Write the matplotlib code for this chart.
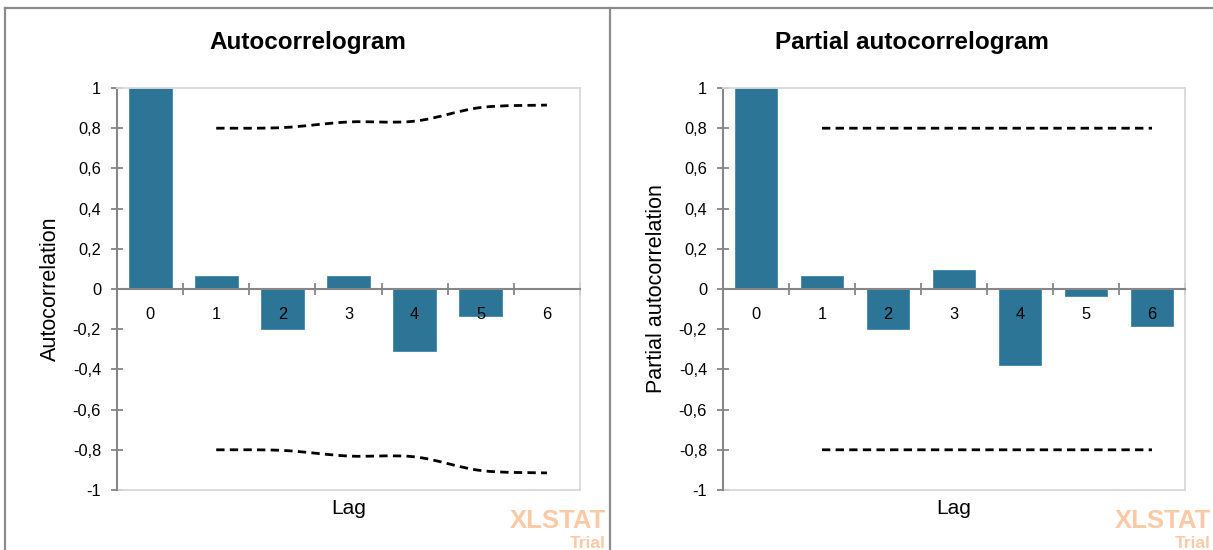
import matplotlib
matplotlib.use("Agg")
import matplotlib.pyplot as plt
from matplotlib.lines import Line2D
from matplotlib.path import Path
from matplotlib.patches import PathPatch
from matplotlib.ticker import FixedLocator, FuncFormatter

# ---- data -------------------------------------------------------------
lags = [0, 1, 2, 3, 4, 5, 6]
acf = [1.0, 0.066, -0.199, 0.063, -0.31, -0.134, 0.0]
pacf = [1.0, 0.066, -0.2, 0.096, -0.38, -0.036, -0.184]
band_lags = [1, 2, 3, 4, 5, 6]
acf_band = [0.800, 0.803, 0.831, 0.835, 0.903, 0.915]
pacf_band = [0.8, 0.8, 0.8, 0.8, 0.8, 0.8]
y_ticks = [-1, -0.8, -0.6, -0.4, -0.2, 0, 0.2, 0.4, 0.6, 0.8, 1]

BAR = "#2C7597"
AXIS = "#868686"
FRAME = "#D9D9D9"
WATER = "#FBC9A6"
FONT = "Liberation Sans"

plt.rcParams["font.family"] = FONT

W, H = 1213, 550
fig = plt.figure(figsize=(W / 100, H / 100), dpi=100)


def px_box(x0, x1, y_top, y_bot):
    return [x0 / W, 1 - y_bot / H, (x1 - x0) / W, (y_bot - y_top) / H]


def smooth_path(xs, ys):
    """Catmull-Rom style smoothed path through the points."""
    pts = list(zip(xs, ys))
    verts = [pts[0]]
    codes = [Path.MOVETO]
    n = len(pts)
    for i in range(n - 1):
        p0 = pts[i - 1] if i > 0 else pts[i]
        p1 = pts[i]
        p2 = pts[i + 1]
        p3 = pts[i + 2] if i + 2 < n else pts[i + 1]
        c1 = (p1[0] + (p2[0] - p0[0]) / 6, p1[1] + (p2[1] - p0[1]) / 6)
        c2 = (p2[0] - (p3[0] - p1[0]) / 6, p2[1] - (p3[1] - p1[1]) / 6)
        verts += [c1, c2, p2]
        codes += [Path.CURVE4] * 3
    return Path(verts, codes)


def fmt(v, _):
    if abs(v - round(v)) < 1e-9:
        return "%d" % round(v)
    return ("%.1f" % v).replace(".", ",")


def draw_panel(box, values, band, title, ylabel, title_x, ylabel_x):
    ax = fig.add_axes(box)
    ax.bar(lags, values, width=0.65, color=BAR, edgecolor="#3F87A8",
           linewidth=0.6, zorder=1)
    for sign in (1, -1):
        ys = [sign * b for b in band]
        ax.add_patch(PathPatch(smooth_path(band_lags, ys), fill=False,
                               edgecolor="black", linewidth=2.0,
                               linestyle=(0, (3.0, 1.9)), zorder=3))
    ax.set_xlim(-0.5, 6.5)
    ax.set_ylim(-1, 1)

    for s in ("top", "right"):
        ax.spines[s].set_color(FRAME)
        ax.spines[s].set_linewidth(1.3)
    ax.spines["left"].set_color(AXIS)
    ax.spines["left"].set_linewidth(1.5)
    ax.spines["bottom"].set_position(("data", 0))
    ax.spines["bottom"].set_color(AXIS)
    ax.spines["bottom"].set_linewidth(1.5)
    ax.add_line(Line2D([0, 1], [0, 0], transform=ax.transAxes,
                       color=FRAME, linewidth=1.3, clip_on=False))

    ax.yaxis.set_major_locator(FixedLocator(y_ticks))
    ax.yaxis.set_major_formatter(FuncFormatter(fmt))
    ax.tick_params(axis="y", direction="inout", length=9, width=1.3,
                   color=AXIS, pad=7, labelsize=11.8)

    ax.set_xticks(lags)
    ax.set_xticklabels([str(l) for l in lags])
    ax.xaxis.set_minor_locator(FixedLocator([l - 0.5 for l in lags] + [6.5]))
    ax.tick_params(axis="x", which="major", length=0, pad=13.3,
                   labelsize=11.8)
    ax.tick_params(axis="x", which="minor", direction="inout", length=9,
                   width=1.3, color=AXIS)

    fig.text(title_x / W, 1 - 42 / H, title, ha="center", va="center",
             fontsize=17.5, fontweight="bold")
    fig.text((box[0] + box[2] / 2), 1 - 508 / H, "Lag", ha="center",
             va="center", fontsize=15)
    fig.text(ylabel_x / W, 1 - 289 / H, ylabel, ha="center", va="center",
             rotation=90, fontsize=15.5)
    return ax


draw_panel(px_box(117, 580, 88, 490), acf, acf_band, "Autocorrelogram",
           "Autocorrelation", 308, 50)
draw_panel(px_box(723, 1185, 88, 490), pacf, pacf_band,
           "Partial autocorrelogram", "Partial autocorrelation", 912, 656)

# watermark
for right in (606, 1211):
    fig.text(right / W, 1 - 521 / H, "XLSTAT", ha="right", va="center",
             fontsize=18.5, fontweight="bold", color=WATER)
    fig.text(right / W, 1 - 543 / H, "Trial", ha="right", va="center",
             fontsize=12.5, fontweight="bold", color=WATER)

# chart borders
for line in (
    Line2D([4.5 / W, 1], [1 - 7.5 / H, 1 - 7.5 / H]),
    Line2D([4.5 / W, 4.5 / W], [0, 1 - 7.5 / H]),
    Line2D([609.5 / W, 609.5 / W], [0, 1 - 7.5 / H]),
):
    line.set_color("#8C8C8C")
    line.set_linewidth(1.6)
    fig.add_artist(line)

fig.savefig("out.png", dpi=100, facecolor="white")
